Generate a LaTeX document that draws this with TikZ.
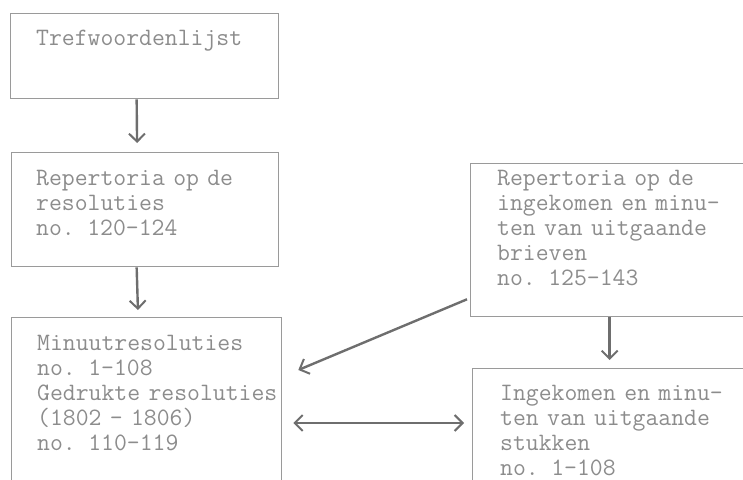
\documentclass[tikz,border=0pt]{standalone}
\usetikzlibrary{arrows.meta}
\definecolor{txt}{HTML}{8C8C8C}
\definecolor{ln}{HTML}{9A9A9A}
\definecolor{arr}{HTML}{6E6E6E}
\tikzset{
  box/.style={draw=ln, line width=1.3pt, anchor=north west, inner sep=0pt},
  lbl/.style={anchor=base west, inner sep=0pt, text=txt, text width=280pt, align=left,
    font=\ttfamily\fontsize{25pt}{25pt}\selectfont},
  conn/.style={draw=arr, line width=2.4pt, -{Straight Barb[length=8pt,width=16pt,line width=2pt]}},
  dconn/.style={draw=arr, line width=2.4pt, {Straight Barb[length=8pt,width=16pt,line width=2pt]}-{Straight Barb[length=8pt,width=16pt,line width=2pt]}}
}
\begin{document}
\begin{tikzpicture}[x=1pt,y=-1pt]
\useasboundingbox (0,0) rectangle (743,479);
\clip (0,0) rectangle (743,479);
% boxes
\node[box, minimum width=268pt, minimum height=85pt] (b1) at (10,13) {};
\node[box, minimum width=267pt, minimum height=114pt] (b2) at (11,152) {};
\node[box, minimum width=270pt, minimum height=190pt] (b3) at (11,317) {};
\node[box, minimum width=290pt, minimum height=153pt] (b4) at (470,163) {};
\node[box, minimum width=290pt, minimum height=140pt] (b5) at (472,368) {};
% texts
\node[lbl] (t1) at (36,45) {Trefwoordenlijst};
\node[lbl] (t2) at (36,185) {Repertoria op de\\resoluties\\no. 120-124};
\node[lbl] (t3) at (37,350) {Minuutresoluties\\no. 1-108\\Gedrukte resoluties\\(1802 - 1806)\\no. 110-119};
\node[lbl] (t4) at (497,185) {Repertoria op de\\ingekomen en minu-\\ten van uitgaande\\brieven\\no. 125-143};
\node[lbl] (t5) at (500,400) {Ingekomen en minu-\\ten van uitgaande\\stukken\\no. 1-108};
% connectors
\draw[conn, shorten >=9pt] ([xshift=-8pt]b1.south) -- ([xshift=-8pt]b2.north);
\draw[conn, shorten >=7pt] ([xshift=-8.5pt]b2.south) -- ([xshift=-8.5pt]b3.north);
\draw[conn, shorten >=8pt] ([xshift=-6pt]b4.south) -- ([xshift=-6pt]b4.south |- b5.north);
\draw[conn] ([xshift=-3pt,yshift=18pt]b4.south west) -- ([xshift=16pt,yshift=-53pt]b3.north east);
\draw[dconn] ([xshift=11pt,yshift=-106pt]b3.north east) -- ([xshift=-8pt,yshift=-55pt]b5.north west);
\end{tikzpicture}
\end{document}
